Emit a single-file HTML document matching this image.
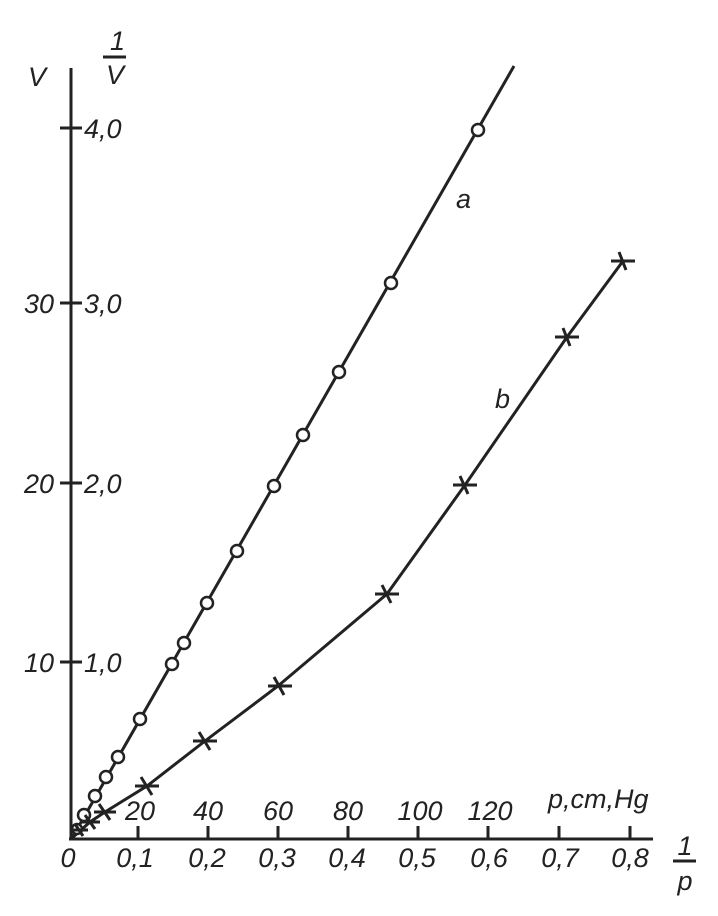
<!DOCTYPE html>
<html><head><meta charset="utf-8"><style>
html,body{margin:0;padding:0;background:#fff}
svg{display:block}
text{font-family:"Liberation Sans Narrow","Liberation Sans",sans-serif;font-style:italic;fill:#222;font-size:27px}
</style></head><body>
<svg width="718" height="916" viewBox="0 0 718 916" xmlns="http://www.w3.org/2000/svg">
<g stroke="#222" stroke-width="3" fill="none" stroke-linecap="butt">
<line x1="71" y1="68" x2="71" y2="840"/>
<line x1="69" y1="839" x2="653" y2="839"/>
<line x1="60" y1="128" x2="82" y2="128"/>
<line x1="60" y1="303" x2="82" y2="303"/>
<line x1="60" y1="483" x2="82" y2="483"/>
<line x1="60" y1="662" x2="82" y2="662"/>
<line x1="138" y1="839" x2="138" y2="826"/>
<line x1="208" y1="839" x2="208" y2="826"/>
<line x1="278" y1="839" x2="278" y2="826"/>
<line x1="348" y1="839" x2="348" y2="826"/>
<line x1="418" y1="839" x2="418" y2="826"/>
<line x1="488" y1="839" x2="488" y2="826"/>
<line x1="559" y1="839" x2="559" y2="826"/>
<line x1="630" y1="839" x2="630" y2="826"/>
<line x1="673" y1="861" x2="696" y2="861"/>
<line x1="103" y1="57" x2="126" y2="57"/>
<polyline points="72,838 514,66"/>
<polyline points="72,838 90,822 105,812 147,786 205,741 278,686 387,594 465,485 567,337 623,261"/>
</g>
<g stroke="#222" stroke-width="2.5" fill="#fff">
<circle cx="478" cy="130" r="6"/><circle cx="391" cy="283" r="6"/><circle cx="339" cy="372" r="6"/>
<circle cx="303" cy="435" r="6"/><circle cx="274" cy="486" r="6"/><circle cx="237" cy="551" r="6"/>
<circle cx="207" cy="603" r="6"/><circle cx="184" cy="643" r="6"/><circle cx="172" cy="664" r="6"/>
<circle cx="140" cy="719" r="6"/><circle cx="118" cy="757" r="6"/><circle cx="106" cy="777" r="6"/>
<circle cx="95" cy="796" r="6"/><circle cx="84" cy="815" r="6"/><circle cx="77" cy="829" r="5"/>
</g>
<g stroke="#222" stroke-width="3">
<path d="M611 261h24M619 252l7 18"/>
<path d="M555 337h24M563 328l7 18"/>
<path d="M453 485h24M460 476l8 18"/>
<path d="M375 594h24M382 585l9 18"/>
<path d="M268 686h24M274 677l10 18"/>
<path d="M193 741h24M199 732l11 18"/>
<path d="M135 786h24M141 777l11 18"/>
<path d="M94 812h22M99 804l11 16"/>
<path d="M80 822h20M85 815l10 14"/>
<path d="M72 830h16M75 824l8 12"/>
</g>
<text x="28" y="86">V</text>
<text x="110" y="50">1</text>
<text x="106" y="84">V</text>
<text x="84" y="138">4,0</text>
<text x="84" y="313">3,0</text>
<text x="84" y="493">2,0</text>
<text x="84" y="672">1,0</text>
<text x="54" y="313" text-anchor="end">30</text>
<text x="54" y="493" text-anchor="end">20</text>
<text x="54" y="672" text-anchor="end">10</text>
<text x="456" y="208">a</text>
<text x="495" y="408">b</text>
<g text-anchor="middle">
<text x="68" y="867">0</text>
<text x="135" y="867">0,1</text>
<text x="207" y="867">0,2</text>
<text x="277" y="867">0,3</text>
<text x="347" y="867">0,4</text>
<text x="417" y="867">0,5</text>
<text x="489" y="867">0,6</text>
<text x="560" y="867">0,7</text>
<text x="630" y="867">0,8</text>
<text x="140" y="820">20</text>
<text x="208" y="820">40</text>
<text x="278" y="820">60</text>
<text x="348" y="820">80</text>
<text x="420" y="820">100</text>
<text x="490" y="820">120</text>
<text x="685" y="855">1</text>
<text x="685" y="890">p</text>
</g>
<text x="548" y="808">p,cm,Hg</text>
</svg>
</body></html>
